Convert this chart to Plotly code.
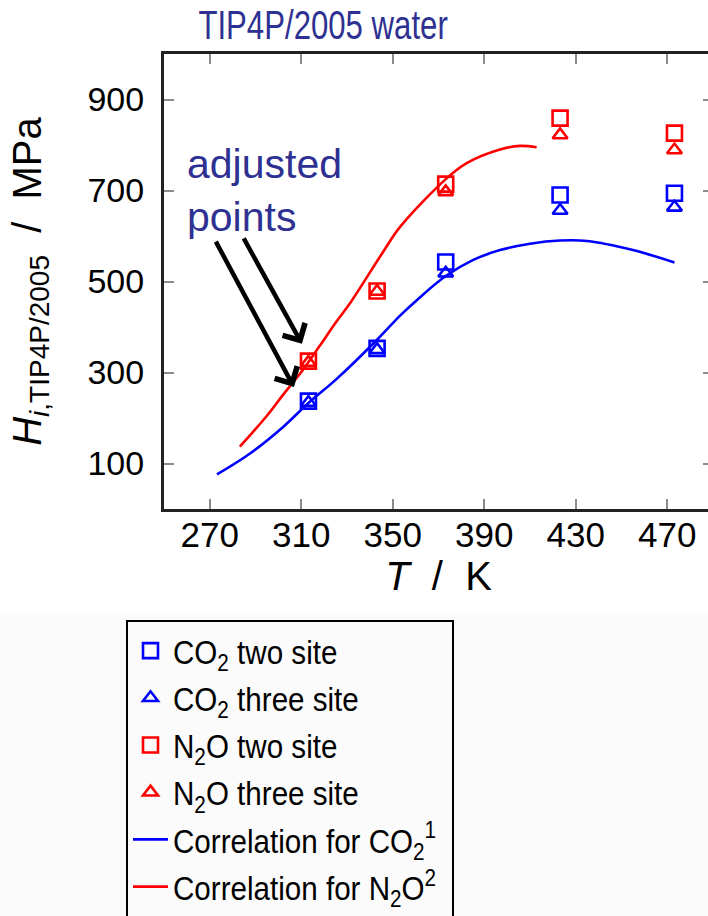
import plotly.graph_objects as go

# ---------------- data ----------------
T_points = [313.15, 343.15, 373.15, 423.15, 473.15]
co2_two_site = [237, 353, 543, 690, 694]
co2_three_site = [234, 350, 518, 656, 663]
n2o_two_site = [325, 479, 714, 859, 826]
n2o_three_site = [322, 478, 697, 822, 789]

T_corr_co2 = [273.15, 287.6, 302.2, 313.15, 325.5, 343.15, 353.2, 360.5, 373.15,
              385.0, 396.9, 410.0, 423.15, 435.0, 455.0, 473.15]
H_corr_co2 = [76, 122, 181, 233, 286, 372, 425, 459, 512,
              547, 569, 583, 590, 589, 569, 542]

T_corr_n2o = [283.15, 295.0, 302.2, 310.2, 318.0, 325.4, 331.3, 345.9, 353.2,
              373.2, 382.3, 396.9, 405.6, 412.9]
H_corr_n2o = [137, 205, 252, 302, 358, 412, 452, 566, 620,
              725, 760, 790, 798, 795]

x_ticks = [270, 310, 350, 390, 430, 470]
y_ticks = [100, 300, 500, 700, 900]
x_range = [250, 490]
y_range = [0, 1000]

# ---------------- figure ----------------
W, H = 716, 916
ML, MR, MT, MB = 164, 3, 54, 407

BLUE = "#0000ff"
RED = "#ff0000"
NAVY = "#2e3192"
SANS = "Liberation Sans, Arial, sans-serif"

fig = go.Figure()

fig.add_trace(go.Scatter(
    x=T_points, y=co2_two_site, mode="markers", name="CO<sub>2</sub> two site",
    marker=dict(symbol="square-open", size=15, color=BLUE, line=dict(width=2.6, color=BLUE))))
fig.add_trace(go.Scatter(
    x=T_points, y=co2_three_site, mode="markers", name="CO<sub>2</sub> three site",
    marker=dict(symbol="triangle-up-open", size=13, color=BLUE, line=dict(width=2.6, color=BLUE))))
fig.add_trace(go.Scatter(
    x=T_points, y=n2o_two_site, mode="markers", name="N<sub>2</sub>O two site",
    marker=dict(symbol="square-open", size=15, color=RED, line=dict(width=2.6, color=RED))))
fig.add_trace(go.Scatter(
    x=T_points, y=n2o_three_site, mode="markers", name="N<sub>2</sub>O three site",
    marker=dict(symbol="triangle-up-open", size=13, color=RED, line=dict(width=2.6, color=RED))))
fig.add_trace(go.Scatter(
    x=T_corr_co2, y=H_corr_co2, mode="lines", name="Correlation for CO<sub>2</sub><sup>1</sup>",
    line=dict(color=BLUE, width=2.6, shape="spline", smoothing=1.0)))
fig.add_trace(go.Scatter(
    x=T_corr_n2o, y=H_corr_n2o, mode="lines", name="Correlation for N<sub>2</sub>O<sup>2</sup>",
    line=dict(color=RED, width=2.6, shape="spline", smoothing=1.0)))

pw = W - ML - MR
ph = H - MT - MB

def px_x(p):
    return (p - ML) / pw

def px_y(p):
    return (H - MB - p) / ph

axis_common = dict(
    showline=True, linecolor="#222222", linewidth=3, mirror="ticks",
    ticks="inside", ticklen=10, tickwidth=2, tickcolor="#8c8c8c",
    showgrid=False, zeroline=False,
)

fig.update_xaxes(
    range=x_range, tickvals=x_ticks, ticktext=[str(v) for v in x_ticks],
    tickfont=dict(family=SANS, size=35, color="black"),
    title=dict(text="<i>T</i>  /  K", font=dict(family=SANS, size=40, color="black"), standoff=4),
    ticklabelstandoff=-7,
    **axis_common)
fig.update_yaxes(
    range=y_range, tickvals=y_ticks, ticktext=[str(v) for v in y_ticks],
    tickfont=dict(family=SANS, size=34, color="black"),
    title=dict(text="<i>H</i><sub><i>i</i>,TIP4P/2005</sub>  /  MPa",
               font=dict(family=SANS, size=40, color="black"), standoff=34),
    ticklabelstandoff=10,
    **axis_common)

# faint grey band behind legend area
fig.add_shape(type="rect", xref="paper", yref="paper",
              x0=px_x(0), x1=px_x(W), y0=px_y(H), y1=px_y(613),
              fillcolor="#fbfbfb", line=dict(width=0), layer="below")

# "adjusted points" text and arrows
fig.add_annotation(x=259.0, y=701, xref="x", yref="y", text="adjusted<br>points",
                   showarrow=False, xanchor="left", yanchor="middle", align="left",
                   font=dict(family=SANS, size=41, color=NAVY))
fig.add_annotation(x=306.8, y=268, ax=272.3, ay=591, xref="x", yref="y", axref="x", ayref="y",
                   text="", showarrow=True, arrowhead=4, arrowsize=1.1, arrowwidth=4.5,
                   arrowcolor="black", standoff=0)
fig.add_annotation(x=310.3, y=363, ax=284.5, ay=598, xref="x", yref="y", axref="x", ayref="y",
                   text="", showarrow=True, arrowhead=4, arrowsize=1.1, arrowwidth=4.5,
                   arrowcolor="black", standoff=0)

# title drawn as a paper annotation (centred at x = 323 px, y = 25 px)
fig.add_annotation(x=px_x(323), y=px_y(25), xref="paper", yref="paper",
                   text="TIP4P/2005 water", showarrow=False,
                   xanchor="center", yanchor="middle",
                   font=dict(family=SANS, size=41, color=NAVY))

fig.update_layout(
    width=W, height=H,
    margin=dict(l=ML, r=MR, t=MT, b=MB, autoexpand=False),
    paper_bgcolor="white", plot_bgcolor="white",
    showlegend=True,
    legend=dict(x=px_x(126), y=px_y(620), xanchor="left", yanchor="top",
                xref="paper", yref="paper",
                bgcolor="rgba(0,0,0,0)", bordercolor="black", borderwidth=2,
                font=dict(family=SANS, size=34, color="black"),
                itemwidth=35, tracegroupgap=0),
)

# The reference uses a narrow (condensed) face for the title and legend; none is
# installed, so the regular face is condensed horizontally after drawing.
post = """
document.documentElement.style.overflow='hidden';
document.body.style.overflow='hidden';
document.querySelectorAll('.annotation-text').forEach(function(e){
  if (e.textContent.indexOf('TIP4P') === 0) {
    var w = e.getComputedTextLength();
    e.setAttribute('textLength', (w * 0.76).toFixed(1));
    e.setAttribute('lengthAdjust', 'spacingAndGlyphs');
  }
});
document.querySelectorAll('.legendtext').forEach(function(e){
  var w = e.getComputedTextLength();
  e.setAttribute('textLength', (w * 0.87).toFixed(1));
  e.setAttribute('lengthAdjust', 'spacingAndGlyphs');
});
var bg = document.querySelector('.legend .bg');
if (bg) { bg.setAttribute('width', '326'); }
"""

fig.write_html("out.html", post_script=post)
